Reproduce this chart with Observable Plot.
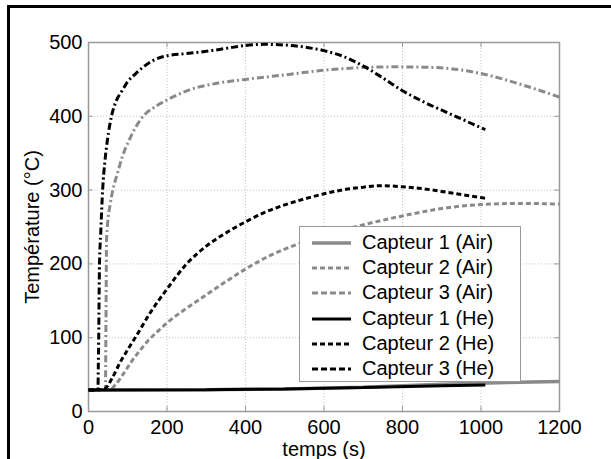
<!DOCTYPE html>
<html>
<head>
<meta charset="utf-8">
<script src="https://cdn.jsdelivr.net/npm/d3@7"></script>
<script src="https://cdn.jsdelivr.net/npm/@observablehq/plot@0.6"></script>
<style>
  html, body { margin: 0; padding: 0; background: #fff; }
  #wrap { position: relative; width: 611px; height: 459px; overflow: hidden; font-family: "Liberation Sans", Arial, sans-serif; }
  #chart { position: absolute; left: 0; top: 0; }
  #outer { position: absolute; left: 7px; top: 5px; width: 620px; height: 470px; border-top: 3px solid #000; border-left: 3px solid #000; box-sizing: border-box; pointer-events: none; }
  #legend { position: absolute; left: 299px; top: 226px; width: 222px; height: 156px; border: 1px solid #999; background: #fff; box-sizing: border-box; }
  .row { position: absolute; left: 0; height: 25px; width: 100%; }
  .row svg { position: absolute; left: 12px; top: 7px; }
  .row span { position: absolute; left: 62px; top: 0; font-size: 20px; line-height: 25px; color: #000; white-space: nowrap; }
</style>
</head>
<body>
<div id="wrap">
  <div id="chart"></div>
  <div id="legend"></div>
  <div id="outer"></div>
</div>
<script>
// Tick values
const xTicks = [0, 200, 400, 600, 800, 1000, 1200];
const yTicks = [0, 100, 200, 300, 400, 500];

// Series names
const seriesNames = ["Capteur 1 (Air)", "Capteur 2 (Air)", "Capteur 3 (Air)", "Capteur 1 (He)", "Capteur 2 (He)", "Capteur 3 (He)"];

// Capteur 1 (Air)
const c1AirT = [0, 300, 500, 700, 900, 1100, 1200];
const c1AirV = [29, 29.5, 30.5, 33, 37, 39.5, 40.5];
// Capteur 2 (Air)
const c2AirT = [0, 52, 70, 90, 110, 130, 150, 175, 200, 250, 300, 350, 400, 450, 500, 550, 600, 685, 800, 900, 1000, 1100, 1200];
const c2AirV = [29, 29, 37, 52, 68, 82, 95, 108, 120, 140, 158, 176, 193, 208, 220, 230, 239, 251, 265, 275, 280.5, 282, 281];
// Capteur 3 (Air)
const c3AirT = [0, 43, 44.5, 46, 48, 55, 62, 75, 86, 103, 120, 141, 170, 196, 264, 330, 400, 514, 591, 697, 780, 854, 914, 999, 1109, 1200];
const c3AirV = [29, 29, 120, 232, 250, 280, 300, 325, 345, 367, 385, 401, 413, 421, 437, 445, 450, 457, 462, 466, 467, 466.5, 465, 458, 442, 426];
// Capteur 1 (He)
const c1HeT = [0, 300, 500, 700, 900, 1011];
const c1HeV = [29, 29.5, 30.5, 32.5, 35, 36];
// Capteur 2 (He)
const c2HeT = [0, 39, 60, 80, 100, 120, 160, 200, 250, 300, 350, 400, 450, 500, 550, 600, 650, 700, 744, 800, 850, 914, 1011];
const c2HeV = [29, 30, 45, 66, 84, 101, 136, 166, 200, 224, 242, 257, 270, 280, 288, 295, 300.5, 304, 306, 304.5, 302, 297, 289];
// Capteur 3 (He)
const c3HeT = [0, 24, 25, 26, 28, 31, 36, 42, 48, 59, 70, 86, 100, 120, 140, 162, 200, 250, 300, 350, 400, 450, 514, 560, 600, 650, 697, 750, 799, 860, 914, 960, 1011];
const c3HeV = [29, 29, 60, 100, 200, 240, 300, 340, 367, 401, 420, 435, 447, 457.6, 467, 475, 482, 485, 488, 492, 496, 497.5, 496, 493, 489, 481, 469, 452, 435, 418, 405, 394, 382];

const GRAY = "#8a8a8a", BLACK = "#000";
const DASH = "5,3", DASHDOT = "7,3,2,3";

const series = [
  {name: seriesNames[0], t: c1AirT, v: c1AirV, color: GRAY, dash: null, w: 3.5},
  {name: seriesNames[1], t: c2AirT, v: c2AirV, color: GRAY, dash: DASH, w: 3},
  {name: seriesNames[2], t: c3AirT, v: c3AirV, color: GRAY, dash: DASHDOT, w: 3},
  {name: seriesNames[3], t: c1HeT, v: c1HeV, color: BLACK, dash: null, w: 3},
  {name: seriesNames[4], t: c2HeT, v: c2HeV, color: BLACK, dash: DASH, w: 3},
  {name: seriesNames[5], t: c3HeT, v: c3HeV, color: BLACK, dash: DASHDOT, w: 3}
];

const lineMarks = series.map(s => {
  const data = s.t.map((t, i) => ({t, v: s.v[i]}));
  const opts = {x: "t", y: "v", stroke: s.color, strokeWidth: s.w, curve: "monotone-x", strokeLinecap: "butt", strokeLinejoin: "miter"};
  if (s.dash) opts.strokeDasharray = s.dash;
  return Plot.line(data, opts);
});

const chart = Plot.plot({
  width: 611,
  height: 459,
  marginLeft: 88,
  marginRight: 52,
  marginTop: 42,
  marginBottom: 48,
  style: {fontFamily: "Liberation Sans, Arial, sans-serif", fontSize: "20px", color: "#000", background: "transparent", overflow: "visible"},
  x: {domain: [0, 1200]},
  y: {domain: [0, 500]},
  marks: [
    Plot.gridX(xTicks, {stroke: "#c4c4c4", strokeOpacity: 1, strokeDasharray: "1,2"}),
    Plot.gridY(yTicks, {stroke: "#c4c4c4", strokeOpacity: 1, strokeDasharray: "1,2"}),
    Plot.ruleX(xTicks, {y1: 0, y2: 7, stroke: "#999"}),
    Plot.ruleX(xTicks, {y1: 500, y2: 493, stroke: "#999"}),
    Plot.ruleY(yTicks, {x1: 0, x2: 12, stroke: "#999"}),
    Plot.ruleY(yTicks, {x1: 1200, x2: 1188, stroke: "#999"}),
    Plot.frame({stroke: "#999", strokeWidth: 1.5}),
    Plot.axisX(xTicks, {tickSize: 0, tickPadding: 8, tickFormat: d => String(d), label: "temps (s)", labelAnchor: "center", labelArrow: "none", labelOffset: 44}),
    Plot.axisY(yTicks, {tickSize: 0, tickPadding: 6, tickFormat: d => String(d), label: "Température (°C)", labelAnchor: "center", labelArrow: "none", labelOffset: 64}),
    ...lineMarks
  ]
});
document.getElementById("chart").appendChild(chart);

// Legend (overlaid inside the plot area, as in the reference)
const legend = document.getElementById("legend");
series.forEach((s, i) => {
  const row = document.createElement("div");
  row.className = "row";
  row.style.top = (3 + i * 25.2) + "px";
  const ns = "http://www.w3.org/2000/svg";
  const svg = document.createElementNS(ns, "svg");
  svg.setAttribute("width", 40);
  svg.setAttribute("height", 12);
  const ln = document.createElementNS(ns, "line");
  ln.setAttribute("x1", 0); ln.setAttribute("x2", 39);
  ln.setAttribute("y1", 6); ln.setAttribute("y2", 6);
  ln.setAttribute("stroke", s.color);
  ln.setAttribute("stroke-width", i === 0 ? 3.5 : 3);
  if (s.dash) ln.setAttribute("stroke-dasharray", s.dash === DASH ? "5,3" : "6,3");
  svg.appendChild(ln);
  const sp = document.createElement("span");
  sp.textContent = s.name;
  row.appendChild(svg);
  row.appendChild(sp);
  legend.appendChild(row);
});
</script>
</body>
</html>
